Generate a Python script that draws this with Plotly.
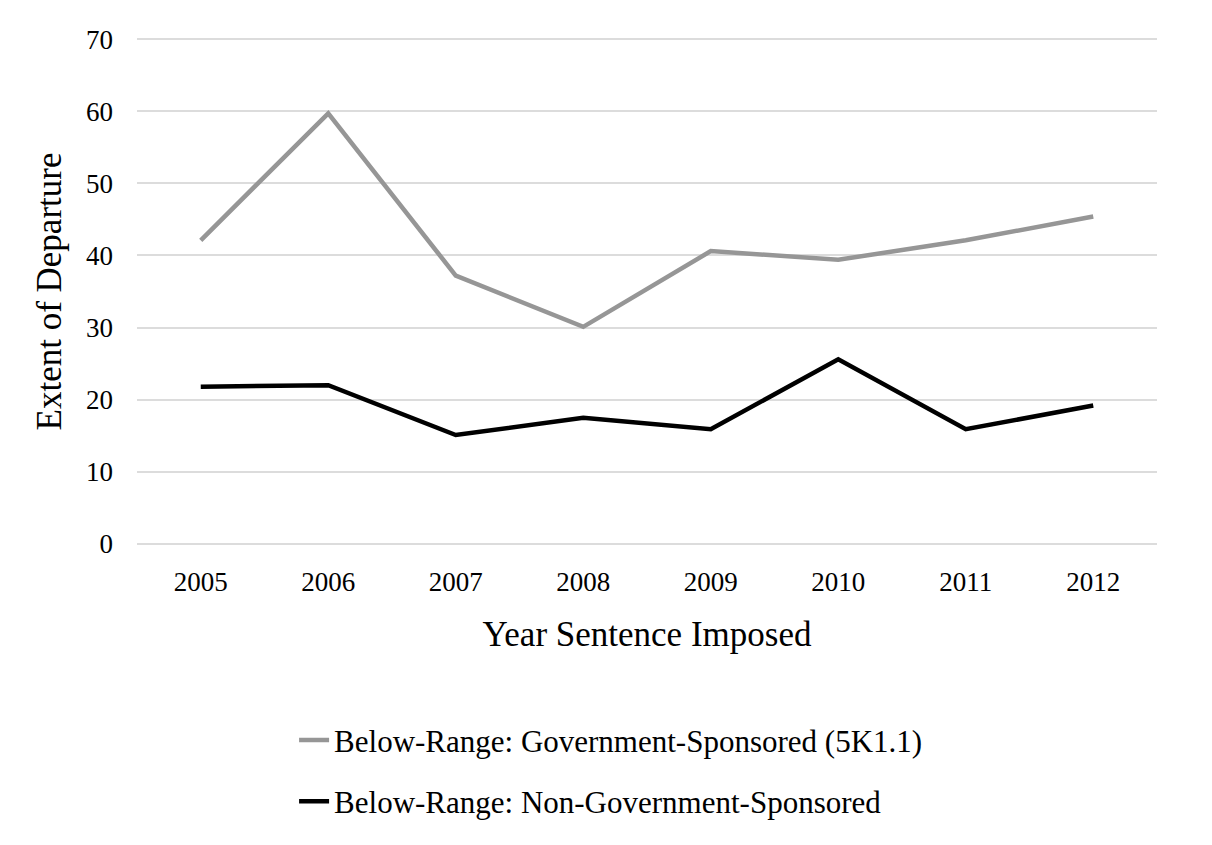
import plotly.graph_objects as go

years = ["2005", "2006", "2007", "2008", "2009", "2010", "2011", "2012"]
gov_sponsored = [42.1, 59.7, 37.2, 30.1, 40.6, 39.4, 42.1, 45.4]
non_gov_sponsored = [21.8, 22.0, 15.1, 17.5, 15.9, 25.6, 15.9, 19.2]
y_ticks = [0, 10, 20, 30, 40, 50, 60, 70]

FONT = "Liberation Serif, DejaVu Serif, serif"

fig = go.Figure()
fig.add_trace(go.Scatter(x=years, y=gov_sponsored, mode="lines",
                         name="Below-Range: Government-Sponsored (5K1.1)",
                         line=dict(color="#969696", width=4.5), legendgroup="a"))
fig.add_trace(go.Scatter(x=years, y=non_gov_sponsored, mode="lines",
                         name="Below-Range: Non-Government-Sponsored",
                         line=dict(color="#000000", width=4.5), legendgroup="b"))

fig.update_layout(
    width=1212, height=845,
    margin=dict(l=129, r=63, t=30, b=308),
    paper_bgcolor="white", plot_bgcolor="white",
    font=dict(family=FONT, color="black"),
    xaxis=dict(
        type="category", range=[-0.5, 7.5],
        showgrid=False, zeroline=False, showline=False,
        tickfont=dict(size=27, family=FONT),
        ticklabelstandoff=18,
        title=dict(text="Year Sentence Imposed", font=dict(size=35, family=FONT), standoff=25),
    ),
    yaxis=dict(
        range=[-0.15, 70.15], tickvals=y_ticks,
        showgrid=True, gridcolor="#dcdcdc", gridwidth=2,
        zeroline=False, showline=False,
        tickfont=dict(size=27, family=FONT),
        ticklabelstandoff=23,
        title=dict(text="Extent of Departure", font=dict(size=35, family=FONT), standoff=13),
    ),
    showlegend=True,
    legend=dict(
        orientation="v", x=0.154, xanchor="left", y=-0.332, yanchor="top",
        font=dict(size=31, family=FONT),
        tracegroupgap=18,
        bgcolor="rgba(0,0,0,0)",
    ),
)

fig.write_html("out.html")
